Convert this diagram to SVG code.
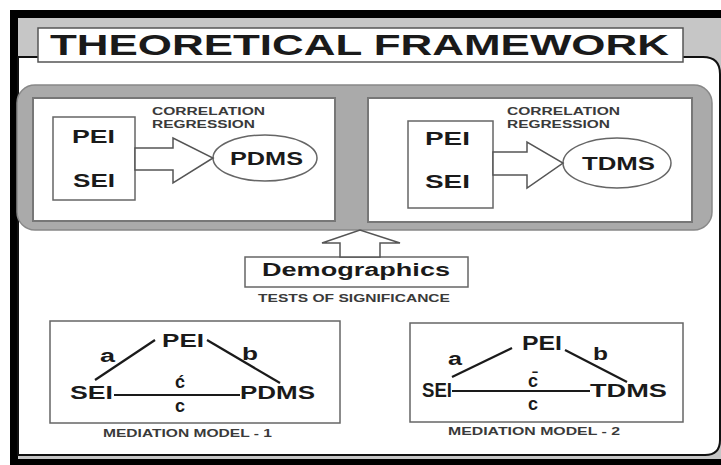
<svg xmlns="http://www.w3.org/2000/svg" width="721" height="465" viewBox="0 0 721 465">
<style>
text{font-family:"Liberation Sans",Arial,sans-serif;font-weight:bold;fill:#1a1a1a}
.big{font-size:18px}
.sm{font-size:10px;fill:#3a3a3a}
.box{fill:#fff;stroke:#666;stroke-width:1.5}
.wbox{fill:#fff;stroke:#777;stroke-width:2}
.hollow{fill:#fff;stroke:#555;stroke-width:1.5;stroke-linejoin:miter}
.ln{stroke:#1a1a1a;stroke-width:2.2;fill:none}
</style>
<rect x="0" y="0" width="721" height="465" fill="#fff"/>
<rect x="10" y="10" width="711" height="455" fill="#000"/>
<rect x="18" y="18" width="703" height="441" fill="#c6c6c6"/>
<path d="M18 57 H703 Q720 57 720 74 V440 Q720 455 705 455 H18 Z" fill="#fff" stroke="#111" stroke-width="2"/>
<g id="title">
<rect x="38" y="28" width="645" height="34" fill="#fff" stroke="#555" stroke-width="1.5"/>
<text x="50" y="55" font-size="30" textLength="619" lengthAdjust="spacingAndGlyphs">THEORETICAL FRAMEWORK</text>
</g>
<g id="analysis-panel">
<rect x="17" y="85" width="695" height="145" rx="18" fill="#aaa" stroke="#888" stroke-width="1.5"/>
</g>
<g id="model-pdms">
<rect class="wbox" x="33" y="98" width="302" height="123"/>
<text class="sm" x="152" y="115" textLength="113" lengthAdjust="spacingAndGlyphs">CORRELATION</text>
<text class="sm" x="152" y="128" textLength="103" lengthAdjust="spacingAndGlyphs">REGRESSION</text>
<rect class="box" x="53" y="117" width="82" height="83"/>
<text class="big" x="72" y="143" textLength="43" lengthAdjust="spacingAndGlyphs">PEI</text>
<text class="big" x="73" y="187" textLength="42" lengthAdjust="spacingAndGlyphs">SEI</text>
<ellipse class="box" cx="265" cy="158" rx="52" ry="23"/>
<text class="big" x="230" y="165" textLength="73" lengthAdjust="spacingAndGlyphs">PDMS</text>
</g>
<g id="model-tdms">
<rect class="wbox" x="368" y="98" width="324" height="124"/>
<text class="sm" x="507" y="115" textLength="113" lengthAdjust="spacingAndGlyphs">CORRELATION</text>
<text class="sm" x="507" y="128" textLength="103" lengthAdjust="spacingAndGlyphs">REGRESSION</text>
<rect class="box" x="408" y="121" width="85" height="87"/>
<text class="big" x="425" y="145" textLength="45" lengthAdjust="spacingAndGlyphs">PEI</text>
<text class="big" x="425" y="188" textLength="45" lengthAdjust="spacingAndGlyphs">SEI</text>
<ellipse class="box" cx="617" cy="163" rx="54" ry="25"/>
<text class="big" x="582" y="170" textLength="73" lengthAdjust="spacingAndGlyphs">TDMS</text>
</g>
<g id="demographics">
<rect class="box" x="245" y="257" width="223" height="30"/>
<text x="262" y="276" font-size="18" textLength="188" lengthAdjust="spacingAndGlyphs">Demographics</text>
<text class="sm" x="258" y="302" textLength="192" lengthAdjust="spacingAndGlyphs">TESTS OF SIGNIFICANCE</text>
</g>
<g id="mediation-1">
<rect class="box" x="50" y="321" width="290" height="102"/>
<text class="big" x="162" y="347" textLength="42" lengthAdjust="spacingAndGlyphs">PEI</text>
<text class="big" x="100" y="362" textLength="15" lengthAdjust="spacingAndGlyphs">a</text>
<text class="big" x="242" y="360" textLength="16" lengthAdjust="spacingAndGlyphs">b</text>
<text class="big" x="70" y="399" textLength="43" lengthAdjust="spacingAndGlyphs">SEI</text>
<text class="big" x="240" y="399" textLength="75" lengthAdjust="spacingAndGlyphs">PDMS</text>
<text class="big" x="180" y="388" text-anchor="middle">ć</text>
<text class="big" x="180" y="412" text-anchor="middle">c</text>
<text class="sm" x="103" y="437" textLength="169" lengthAdjust="spacingAndGlyphs">MEDIATION MODEL - 1</text>
</g>
<g id="mediation-2">
<rect class="box" x="410" y="323" width="273" height="99"/>
<text x="522" y="350" font-size="20" font-weight="normal" textLength="40" lengthAdjust="spacingAndGlyphs">PEI</text>
<text class="big" x="448" y="365" textLength="14" lengthAdjust="spacingAndGlyphs">a</text>
<text class="big" x="593" y="360" textLength="15" lengthAdjust="spacingAndGlyphs">b</text>
<text x="422" y="397" font-size="20" textLength="30" lengthAdjust="spacingAndGlyphs">SEI</text>
<text class="big" x="590" y="397" textLength="77" lengthAdjust="spacingAndGlyphs">TDMS</text>
<text class="big" x="533" y="387" text-anchor="middle">c̄</text>
<text class="big" x="533" y="410" text-anchor="middle">c</text>
<text class="sm" x="448" y="435" textLength="172" lengthAdjust="spacingAndGlyphs">MEDIATION MODEL - 2</text>
</g>
<g id="connectors">
<polygon class="hollow" points="135,148 173,148 173,138 213,158 173,183 173,170 135,170"/>
<polygon class="hollow" points="493,152 527,152 527,142 563,163 527,188 527,175 493,175"/>
<polygon class="hollow" points="340,257 340,243 322,243 360,230 400,243 380,243 380,257"/>
<line class="ln" x1="95" y1="380" x2="155" y2="340"/>
<line class="ln" x1="207" y1="340" x2="280" y2="383"/>
<line class="ln" x1="114" y1="395" x2="240" y2="395"/>
<line class="ln" x1="452" y1="377" x2="512" y2="348"/>
<line class="ln" x1="565" y1="350" x2="627" y2="382"/>
<line class="ln" x1="452" y1="391" x2="590" y2="391"/>
</g>
</svg>
